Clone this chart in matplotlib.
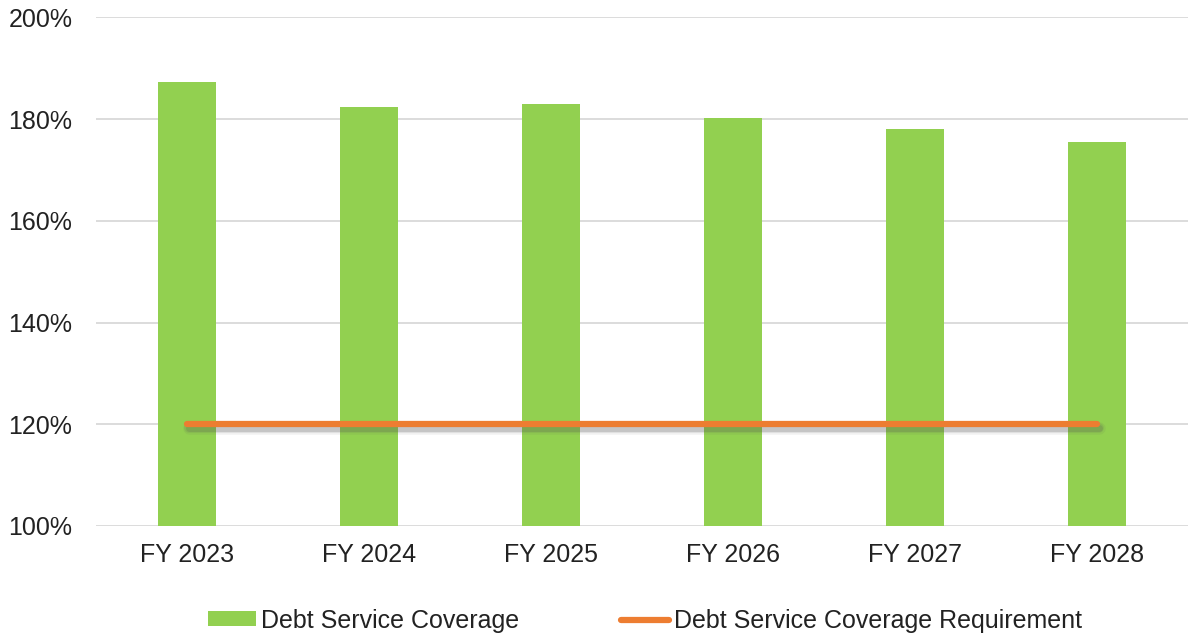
import numpy as np
import matplotlib.pyplot as plt
import matplotlib.patheffects as pe
from matplotlib.lines import Line2D

plt.rcParams['font.family'] = ['Liberation Sans', 'DejaVu Sans']

years = ['FY 2023', 'FY 2024', 'FY 2025', 'FY 2026', 'FY 2027', 'FY 2028']
coverage = [187.4, 182.3, 182.9, 180.2, 178.0, 175.6]
requirement = [120, 120, 120, 120, 120, 120]

x = np.arange(len(years))
orange = '#ED7D31'

fig = plt.figure(figsize=(11.88, 6.36), dpi=100)
ax = fig.add_axes([0.0808, 0.173, 0.9192, 0.7995])

bars = ax.bar(x, coverage, width=0.32, color='#92D050', label='Debt Service Coverage', zorder=2)

# soft drop shadow under the requirement line
shadow = [pe.SimpleLineShadow(offset=(1.5, -2.5), shadow_color='#555555', alpha=a, linewidth=w)
          for w, a in [(9, 0.08), (7, 0.12), (5, 0.18)]]
ax.plot(x, requirement, color=orange, lw=4.5, solid_capstyle='round', zorder=3,
        path_effects=shadow + [pe.Normal()])

ax.set_xlim(-0.5, len(years) - 0.5)
ax.set_ylim(100, 200)
ax.set_yticks(np.arange(100, 201, 20))
ax.set_yticklabels([f'{v}%' for v in range(100, 201, 20)])
ax.set_xticks(x)
ax.set_xticklabels(years)
ax.yaxis.grid(True, color='#D9D9D9', lw=1.3, zorder=0)
ax.set_axisbelow(True)
for s in ax.spines.values():
    s.set_visible(False)
ax.tick_params(axis='both', length=0, labelsize=18, colors='#222222')
ax.tick_params(axis='y', pad=17)
ax.tick_params(axis='x', pad=12)

req_handle = Line2D([], [], color=orange, lw=4.5, solid_capstyle='round',
                    label='Debt Service Coverage Requirement')
fig.legend(handles=[bars, req_handle], loc='center', bbox_to_anchor=(0.543, 0.024), ncol=2,
           frameon=False, fontsize=18, columnspacing=4.1, handlelength=1.9,
           handleheight=0.55, handletextpad=0.2, labelcolor='#222222')

fig.savefig('out.png', dpi=100)
